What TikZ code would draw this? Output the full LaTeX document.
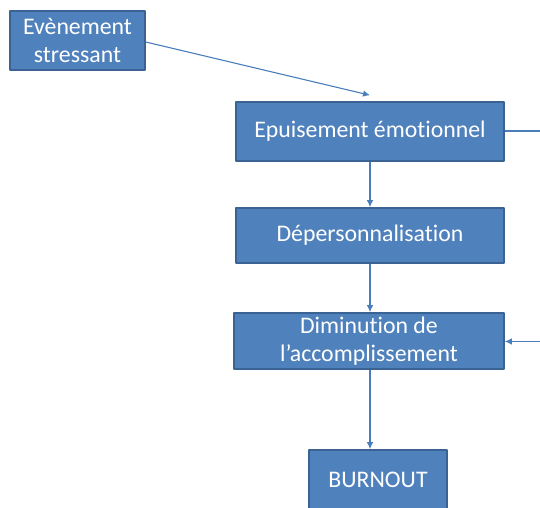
\documentclass[tikz,border=0pt]{standalone}
\usepackage{fontspec}
\setmainfont[Ligatures=NoCommon]{Carlito}
\usetikzlibrary{arrows.meta,positioning}
\definecolor{boxfill}{HTML}{4F81BD}
\definecolor{boxline}{HTML}{3A6292}
\definecolor{arrowcol}{HTML}{4A7EBB}
\tikzset{box/.style={draw=boxline, line width=1.6pt, fill=boxfill, text=white, inner sep=0pt, align=center}}
\begin{document}
\begin{tikzpicture}[x=1pt,y=-1pt,>={Latex[length=7pt,width=6.5pt]}, font=\fontsize{23.8}{28.7}\selectfont, line join=round]
			\useasboundingbox (0,0) rectangle (540,507);
			\clip (0,0) rectangle (540,507);
			\node[box, minimum width=135pt, minimum height=59pt] (E) at (77.5,40.5) {Evènement\\stressant};
			\node[box, minimum width=268pt, minimum height=59pt] (P) at (370,131.5) {Epuisement émotionnel};
			\node[box, minimum width=268pt, minimum height=55pt] (D) at (370,235.5) {Dépersonnalisation};
			\node[box, minimum width=270pt, minimum height=56pt] (A) at (369,341) {Diminution de\\l’accomplissement};
			\node[box, minimum width=138pt, minimum height=60pt] (B) at (378,480) {BURNOUT};
			\coordinate (t) at ([yshift=6pt]P.north);
			\coordinate (r1) at (541,131);
			\coordinate (r2) at (541,341.5);
			\begin{scope}[draw=arrowcol, line width=1.1pt]
			\draw[->] (E.east) ++(0,1.5) -- (t);
			\draw[->] (P.south) -- (D.north);
			\draw[->] (D.south) -- (D.south |- A.north);
			\draw[->] (D.south |- A.south) -- (D.south |- B.north);
			\draw (P.east |- r1) -- (r1);
			\draw[->] (r2) -- (A.east |- r2);
			\end{scope}
		\end{tikzpicture}
\end{document}
